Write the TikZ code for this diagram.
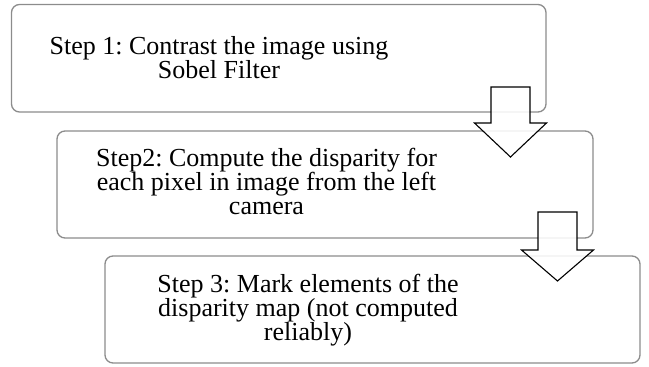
\documentclass[tikz,border=0pt]{standalone}
\usepackage{fontspec}
\setmainfont{Liberation Serif}
\frenchspacing
\usetikzlibrary{calc}
\definecolor{boxgray}{HTML}{8C8C8C}
\tikzset{
  stepbox/.style={draw=boxgray, line width=1.3pt, rounded corners=8pt, fill=white},
  steptext/.style={font=\fontsize{26}{24}\selectfont, align=center, inner sep=0pt, anchor=base},
  blockarrow/.style={draw=black, line width=1.1pt, fill=white, fill opacity=0.88, line join=miter}
}
\begin{document}
\begin{tikzpicture}[x=1pt,y=-1pt]
\useasboundingbox (0,0) rectangle (649,367);
% boxes
\draw[stepbox] (11.5,4.5) rectangle (546,112);
\coordinate (b1) at (278.75,58.25);
\draw[stepbox] (57,131) rectangle (593,238);
\coordinate (b2) at (325,184.5);
\draw[stepbox] (105,256) rectangle (640,363);
\coordinate (b3) at (372.5,309.5);
% texts
\node[steptext] (t1) at (219,78) {Step 1: Contrast the image using\\Sobel Filter};
\node[steptext] (t2) at (266.5,214) {Step2: Compute the disparity for\\each pixel in image from the left\\camera};
\node[steptext] (t3) at (308,340) {Step 3: Mark elements of the\\disparity map (not computed\\reliably)};
% arrows
\coordinate (a1) at (510.5,87);
\draw[blockarrow] (a1) ++(-19.5,0) -- ++(0,36) -- ++(-16.5,0) -- ++(36,34) -- ++(36,-34) -- ++(-16.5,0) -- ++(0,-36) -- cycle;
\coordinate (a2) at (557.5,212);
\draw[blockarrow] (a2) ++(-19.5,0) -- ++(0,38) -- ++(-16.5,0) -- ++(36,31) -- ++(36,-31) -- ++(-16.5,0) -- ++(0,-38) -- cycle;
\end{tikzpicture}
\end{document}
